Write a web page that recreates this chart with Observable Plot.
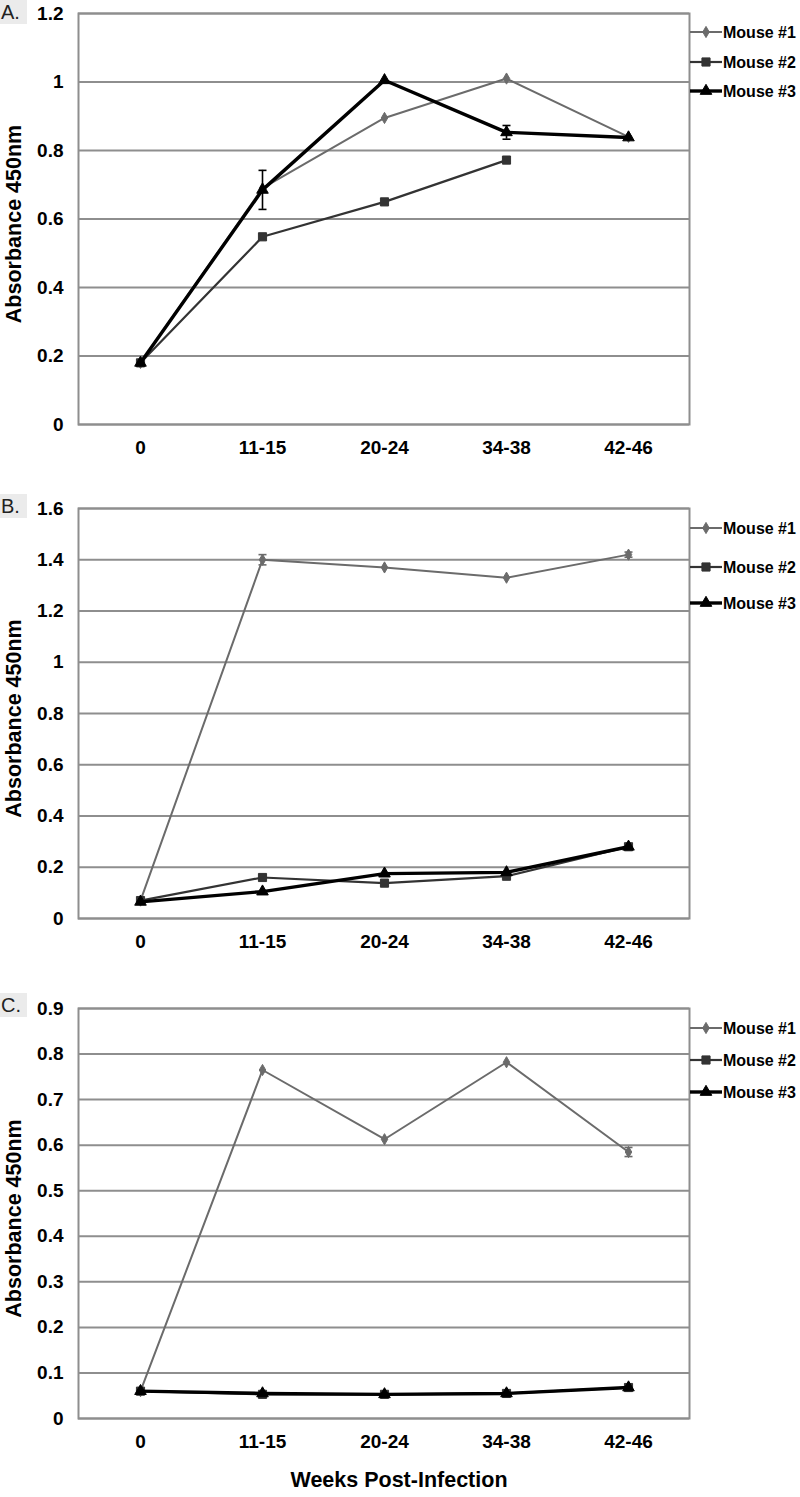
<!DOCTYPE html>
<html><head><meta charset="utf-8">
<script src="https://cdn.jsdelivr.net/npm/d3@7"></script>
<script src="https://cdn.jsdelivr.net/npm/@observablehq/plot@0.6"></script>
<style>
body{margin:0;background:#fff;}
#wrap{position:relative;width:800px;height:1497px;overflow:hidden;font-family:"Liberation Sans",Arial,sans-serif;}
.panel{position:absolute;left:0;}
.plabel{position:absolute;left:0;width:26px;height:24px;background:#ebebeb;font-size:20px;line-height:24px;color:#222;padding-left:1px;}
</style></head><body><div id="wrap"></div>
<script>
// ---- data ----
const weeks = ["0", "11-15", "20-24", "34-38", "42-46"];
const seriesNames = ["Mouse #1", "Mouse #2", "Mouse #3"];

// Panel A
const yTicksA = [0, 0.2, 0.4, 0.6, 0.8, 1, 1.2];
const a1 = [0.18, 0.69, 0.895, 1.01, 0.84];
const a2 = [0.18, 0.548, 0.65, 0.772, null];
const a3 = [0.18, 0.685, 1.005, 0.853, 0.838];
const a1Err = [null, null, null, null, null];
const a2Err = [null, null, null, null, null];
const a3Err = [null, 0.057, null, 0.02, null];

// Panel B
const yTicksB = [0, 0.2, 0.4, 0.6, 0.8, 1, 1.2, 1.4, 1.6];
const b1 = [0.07, 1.40, 1.37, 1.33, 1.42];
const b2 = [0.07, 0.16, 0.138, 0.165, 0.28];
const b3 = [0.065, 0.105, 0.175, 0.18, 0.28];
const b1Err = [null, 0.02, null, null, 0.01];
const b2Err = [null, null, null, null, null];
const b3Err = [null, null, null, null, null];

// Panel C
const yTicksC = [0, 0.1, 0.2, 0.3, 0.4, 0.5, 0.6, 0.7, 0.8, 0.9];
const c1 = [0.06, 0.765, 0.613, 0.782, 0.585];
const c2 = [0.06, 0.053, 0.053, 0.055, 0.068];
const c3 = [0.06, 0.055, 0.053, 0.055, 0.068];
const c1Err = [null, null, null, null, 0.01];
const c2Err = [null, null, null, null, null];
const c3Err = [null, null, null, null, null];

// ---- styles ----
const FONT = '"Liberation Sans", Arial, Helvetica, sans-serif';
const seriesStyle = [
  {stroke: "#6b6b6b", width: 2, symbol: "diamond", r: 3.4},
  {stroke: "#333333", width: 2.2, symbol: "square", r: 4.6},
  {stroke: "#000000", width: 3.4, symbol: "triangle", r: 4.3}
];
const GRID = "#8e8e8e";
const capSymbol = {draw(ctx, size) { const w = Math.sqrt(size / Math.PI); ctx.moveTo(-w, 0); ctx.lineTo(w, 0); }};

function rowsFor(values, errs, name) {
  const out = [];
  values.forEach((v, j) => { if (v != null) out.push({series: name, week: weeks[j], value: v, err: errs[j]}); });
  return out;
}

function panel(cfg) {
  const marks = [
    Plot.ruleY(cfg.yTicks, {stroke: GRID, strokeWidth: 2}),
    Plot.frame({stroke: GRID, strokeWidth: 2})
  ];
  cfg.series.forEach((s, i) => {
    const st = seriesStyle[i];
    const rows = rowsFor(s.values, s.errs, seriesNames[i]);
    const errRows = rows.filter(d => d.err != null);
    marks.push(Plot.line(rows, {x: "week", y: "value", stroke: st.stroke, strokeWidth: st.width}));
    marks.push(Plot.ruleX(errRows, {x: "week", y1: d => d.value - d.err, y2: d => d.value + d.err, stroke: st.stroke, strokeWidth: 1.6}));
    marks.push(Plot.dot(errRows, {x: "week", y: d => d.value + d.err, symbol: capSymbol, r: 4, stroke: st.stroke, strokeWidth: 1.6}));
    marks.push(Plot.dot(errRows, {x: "week", y: d => d.value - d.err, symbol: capSymbol, r: 4, stroke: st.stroke, strokeWidth: 1.6}));
    marks.push(Plot.dot(rows, {x: "week", y: "value", symbol: st.symbol, r: st.r, fill: st.stroke, stroke: st.stroke, strokeWidth: 1}));
  });
  marks.push(Plot.text([cfg.yTitle], {frameAnchor: "left", dx: -64, dy: 5, rotate: -90, textAnchor: "middle", lineAnchor: "middle", text: d => d, fontSize: 21.5, fontWeight: "bold", fill: "#000"}));
  if (cfg.xTitle) marks.push(Plot.text([cfg.xTitle], {frameAnchor: "bottom", dx: 15, dy: 62, textAnchor: "middle", lineAnchor: "middle", text: d => d, fontSize: 21.5, fontWeight: "bold", fill: "#000"}));

  const svg = Plot.plot({
    width: 800,
    height: cfg.height,
    marginLeft: 78, marginRight: 111, marginTop: cfg.marginTop, marginBottom: cfg.marginBottom,
    style: {fontFamily: FONT, fontSize: "19px", fontWeight: "bold", color: "#000", background: "transparent", overflow: "visible"},
    x: {type: "point", domain: weeks, padding: 0.5, label: null, tickSize: 0, tickPadding: 16},
    y: {domain: [0, cfg.yTicks[cfg.yTicks.length - 1]], ticks: cfg.yTicks, tickFormat: d => String(d), tickSize: 0, tickPadding: 15, label: null},
    marks
  });

  // legend in right margin
  const g = d3.select(svg).append("g").attr("text-anchor", "start");
  cfg.legendY.forEach((ly, i) => {
    const st = seriesStyle[i];
    g.append("line").attr("x1", 690).attr("x2", 722).attr("y1", ly).attr("y2", ly)
      .attr("stroke", st.stroke).attr("stroke-width", st.width);
    const type = {diamond: d3.symbolDiamond, square: d3.symbolSquare, triangle: d3.symbolTriangle}[st.symbol];
    g.append("path").attr("d", d3.symbol(type, Math.PI * st.r * st.r)()).attr("transform", `translate(706,${ly})`)
      .attr("fill", st.stroke).attr("stroke", st.stroke);
    g.append("text").attr("x", 723).attr("y", ly).attr("dy", "0.35em").attr("text-anchor", "start")
      .attr("font-family", FONT).attr("font-size", 16).attr("font-weight", "bold").attr("fill", "#000")
      .text(seriesNames[i]);
  });

  const div = document.createElement("div");
  div.className = "panel";
  div.style.top = cfg.top + "px";
  div.appendChild(svg);
  document.getElementById("wrap").appendChild(div);

  const lab = document.createElement("div");
  lab.className = "plabel";
  lab.style.top = cfg.labelTop + "px";
  lab.textContent = cfg.label;
  document.getElementById("wrap").appendChild(lab);
}

panel({top: 0, height: 470, marginTop: 13, marginBottom: 46, yTicks: yTicksA, label: "A.", labelTop: 0,
  yTitle: "Absorbance 450nm", legendY: [32, 62, 91],
  series: [{values: a1, errs: a1Err}, {values: a2, errs: a2Err}, {values: a3, errs: a3Err}]});
panel({top: 475, height: 490, marginTop: 33, marginBottom: 47, yTicks: yTicksB, label: "B.", labelTop: 494,
  yTitle: "Absorbance 450nm", legendY: [53, 92, 128],
  series: [{values: b1, errs: b1Err}, {values: b2, errs: b2Err}, {values: b3, errs: b3Err}]});
panel({top: 970, height: 527, marginTop: 38, marginBottom: 79, yTicks: yTicksC, label: "C.", labelTop: 993,
  yTitle: "Absorbance 450nm", xTitle: "Weeks Post-Infection", legendY: [58, 90, 122],
  series: [{values: c1, errs: c1Err}, {values: c2, errs: c2Err}, {values: c3, errs: c3Err}]});
</script>
</body></html>
